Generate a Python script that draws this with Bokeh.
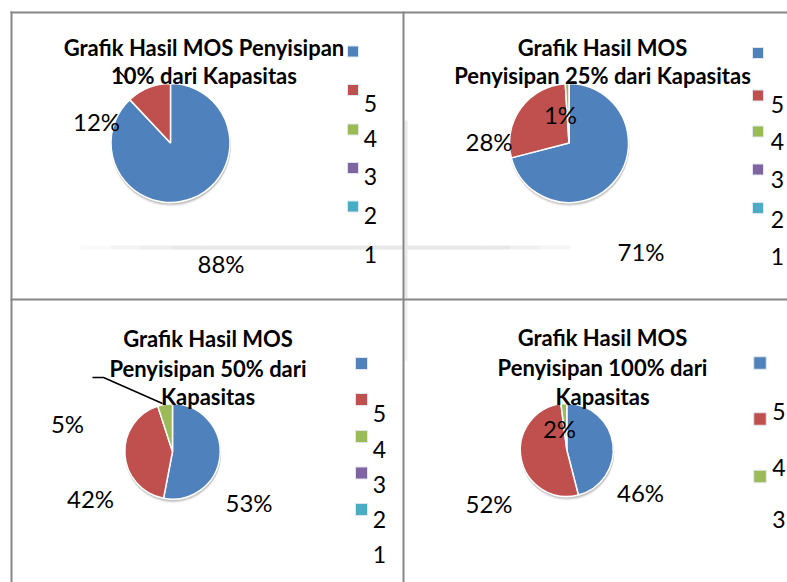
import numpy as np
from bokeh.plotting import figure
from bokeh.models import Range1d, ColumnDataSource
from bokeh.embed import file_html
from bokeh.resources import INLINE
from bokeh.core.properties import value

# ---------------- data ----------------
legend_labels = ["", "5", "4", "3", "2", "1"]
series_colors = ["#4F81BD", "#C0504D", "#9BBB59", "#8064A2", "#4BACC6"]
titles_10 = ["Grafik Hasil MOS Penyisipan", "10% dari Kapasitas"]
titles_25 = ["Grafik Hasil MOS", "Penyisipan 25% dari Kapasitas"]
titles_50 = ["Grafik Hasil MOS", "Penyisipan 50% dari", "Kapasitas"]
titles_100 = ["Grafik Hasil MOS", "Penyisipan 100% dari", "Kapasitas"]
values_10 = [88, 12, 0, 0, 0]
values_25 = [71, 28, 1, 0, 0]
values_50 = [53, 42, 5, 0, 0]
values_100 = [46, 52, 2, 0, 0]

# ---------------- layout (page pixels) ----------------
W, H = 787, 582
TDY = 9  # raise text baselines


def Y(y):
    return H - y


def YT(y):
    return H - y + TDY


panels = [
    dict(values=values_10, titles=titles_10, cx=170, cy=142.5, r=59.5,
         tx=203.5, tys=[56, 84],
         lab=[(220.5, 272), (96, 130)],
         mx=352.5, mys=[51, 89.5, 129, 167.5, 206], ms=11,
         lx=370, lys=[112, 147, 185, 224, 263], nlab=5),
    dict(values=values_25, titles=titles_25, cx=568.5, cy=142.6, r=59.5,
         tx=602, tys=[56, 84],
         lab=[(640.5, 260), (488.5, 150), (560, 123)],
         mx=757.5, mys=[52.5, 95, 131, 169, 207.5], ms=11,
         lx=777, lys=[113, 150, 188, 228, 265], nlab=5),
    dict(values=values_50, titles=titles_50, cx=172, cy=451, r=47.7,
         tx=207.5, tys=[347, 377, 405],
         lab=[(248.5, 511), (90, 507), (67, 432)],
         mx=361, mys=[363, 399, 436, 472.5, 509], ms=12,
         lx=379, lys=[422, 458, 493, 528, 563], nlab=5),
    dict(values=values_100, titles=titles_100, cx=566.3, cy=449.5, r=46.5,
         tx=602, tys=[346, 376, 405],
         lab=[(640, 501), (488.5, 512), (559, 437)],
         mx=759.5, mys=[362.5, 418.5, 476], ms=12.5,
         lx=778.5, lys=[420, 476, 528], nlab=3),
]

p = figure(width=W, height=H, output_backend="svg", toolbar_location=None,
           x_range=Range1d(0, W), y_range=Range1d(0, H),
           x_axis_type=None, y_axis_type=None, min_border=0)
p.outline_line_color = None
p.grid.visible = False
p.background_fill_color = "white"
p.border_fill_color = "white"

FONT = value("Lato")
BORDER = "#878787"
LIGHT = "#e8e8e8"

# light decorative bands
fade_x = [80, 110, 140, 170, 200, 480, 510, 540, 570]
fade_a = [0.25, 0.5, 0.75, 1.0, 1.0, 1.0, 0.7, 0.4, 0.15]
for i in range(len(fade_x) - 1):
    p.quad(left=fade_x[i], right=fade_x[i + 1], bottom=Y(249), top=Y(245),
           fill_color=LIGHT, fill_alpha=fade_a[i], line_color=None)
p.quad(left=404, right=407, bottom=Y(298), top=Y(120), fill_color=LIGHT, line_color=None)
p.quad(left=404, right=407, bottom=Y(360), top=Y(300), fill_color=LIGHT, fill_alpha=0.6, line_color=None)

# panel borders
p.quad(left=[10, 10, 402, 10], right=[800, 12, 404, 800],
       bottom=[Y(13), Y(600), Y(600), Y(300)], top=[Y(11), Y(11), Y(11), Y(298)],
       fill_color=BORDER, line_color=None)

for pan in panels:
    vals = np.array(pan["values"], dtype=float)
    fr = vals / vals.sum()
    cum = np.concatenate([[0.0], np.cumsum(fr)])
    start = np.pi / 2 - 2 * np.pi * cum[:-1]
    end = np.pi / 2 - 2 * np.pi * cum[1:]
    mask = fr > 0
    n = int(mask.sum())
    cx, cy, r = pan["cx"], Y(pan["cy"]), pan["r"]

    # soft shadow
    for k, a in [(3.5, 0.05), (2.5, 0.08), (1.5, 0.12)]:
        p.circle(x=cx + 0.5, y=cy - k, radius=r + 0.5, fill_color="#000000",
                 fill_alpha=a, line_color=None)

    src = ColumnDataSource(dict(
        x=[cx] * n, y=[cy] * n,
        s=list(start[mask]), e=list(end[mask]),
        c=[series_colors[i] for i in range(len(vals)) if mask[i]],
    ))
    p.wedge(x="x", y="y", radius=r, start_angle="s", end_angle="e",
            direction="clock", fill_color="c", line_color="white", line_width=1.5,
            source=src)

    # percent labels
    txt = [f"{int(v)}%" for v in vals[mask]]
    p.text(x=[q[0] for q in pan["lab"]], y=[YT(q[1]) for q in pan["lab"]], text=txt,
           text_font=FONT, text_font_size="24px", text_align="center",
           text_baseline="alphabetic", text_color="#000000")

    # title
    p.text(x=[pan["tx"]] * len(pan["titles"]), y=[YT(t) for t in pan["tys"]],
           text=pan["titles"], text_font=FONT, text_font_size="22px",
           text_font_style="bold", text_align="center", text_baseline="alphabetic",
           text_color="#000000")

    # legend markers
    nm = len(pan["mys"])
    ms = pan["ms"]
    p.rect(x=[pan["mx"]] * nm, y=[Y(v) for v in pan["mys"]], width=ms, height=ms,
           fill_color=series_colors[:nm], line_color="#dfe6ee", line_width=1)
    nl = pan["nlab"]
    p.text(x=[pan["lx"]] * nl, y=[YT(v) for v in pan["lys"]], text=legend_labels[1:1 + nl],
           text_font=FONT, text_font_size="23px", text_align="center",
           text_baseline="alphabetic", text_color="#000000")

# leader lines
p.line(x=[92, 103, 162], y=[Y(377), Y(377), Y(403)], line_color="black", line_width=1.5)
p.line(x=[117, 127], y=[Y(69), Y(80)], line_color="black", line_width=1.5)

open("out.html", "w").write(file_html(p, INLINE))
